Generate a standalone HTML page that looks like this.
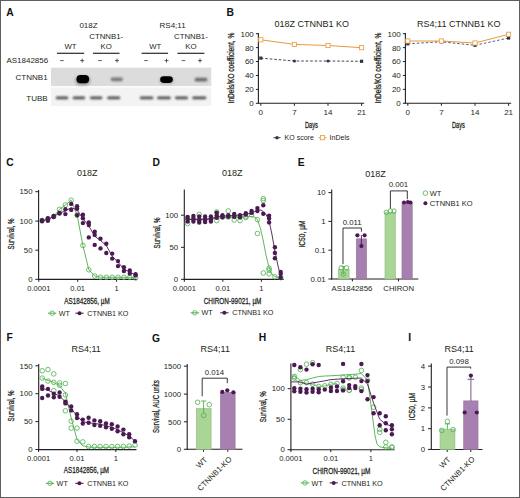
<!DOCTYPE html>
<html><head><meta charset="utf-8"><style>
html,body{margin:0;padding:0;background:#fff;}
#fig{position:relative;width:520px;height:498px;overflow:hidden;background:#fff;box-sizing:border-box;}
#fig svg{position:absolute;left:0;top:0;}
text{font-family:"Liberation Sans", sans-serif;}
</style></head><body><div id="fig">
<svg width="520" height="498" viewBox="0 0 520 498" font-family='"Liberation Sans", sans-serif'>
<defs>
<filter id="b1" x="-50%" y="-100%" width="200%" height="300%"><feGaussianBlur stdDeviation="0.75"/></filter>
<filter id="b2" x="-50%" y="-150%" width="200%" height="400%"><feGaussianBlur stdDeviation="0.8"/></filter>
<filter id="b3" x="-50%" y="-150%" width="200%" height="400%"><feGaussianBlur stdDeviation="1.4"/></filter>
<filter id="soft" x="-5%" y="-20%" width="110%" height="140%"><feGaussianBlur stdDeviation="0.7"/></filter>
</defs>
<rect x="0" y="0" width="520" height="498" fill="#fff"/>
<text x="6.3" y="16.2" font-size="10.3" text-anchor="start" fill="#111" font-weight="bold" >A</text>
<text x="88.5" y="28.2" font-size="8" text-anchor="middle" fill="#231f20" >018Z</text>
<text x="172.6" y="28.2" font-size="8" text-anchor="middle" fill="#231f20" >RS4;11</text>
<text x="106.2" y="39.4" font-size="7.8" text-anchor="middle" fill="#231f20" >CTNNB1-</text>
<text x="106.2" y="48.8" font-size="7.8" text-anchor="middle" fill="#231f20" >KO</text>
<text x="70.5" y="48.8" font-size="7.8" text-anchor="middle" fill="#231f20" >WT</text>
<line x1="57" y1="53.3" x2="84.2" y2="53.3" stroke="#2a2a2a" stroke-width="1.2" />
<line x1="93" y1="53.3" x2="119.5" y2="53.3" stroke="#2a2a2a" stroke-width="1.2" />
<text x="190.9" y="39.4" font-size="7.8" text-anchor="middle" fill="#231f20" >CTNNB1-</text>
<text x="190.9" y="48.8" font-size="7.8" text-anchor="middle" fill="#231f20" >KO</text>
<text x="155.2" y="48.8" font-size="7.8" text-anchor="middle" fill="#231f20" >WT</text>
<line x1="141.6" y1="53.3" x2="168.1" y2="53.3" stroke="#2a2a2a" stroke-width="1.2" />
<line x1="177.4" y1="53.3" x2="204.4" y2="53.3" stroke="#2a2a2a" stroke-width="1.2" />
<text x="6.4" y="62.9" font-size="8" text-anchor="start" fill="#231f20" >AS1842856</text>
<line x1="60.1" y1="60.6" x2="63.699999999999996" y2="60.6" stroke="#333" stroke-width="0.8" />
<line x1="98.2" y1="60.6" x2="101.8" y2="60.6" stroke="#333" stroke-width="0.8" />
<line x1="144.2" y1="60.6" x2="147.8" y2="60.6" stroke="#333" stroke-width="0.8" />
<line x1="181.6" y1="60.6" x2="185.20000000000002" y2="60.6" stroke="#333" stroke-width="0.8" />
<line x1="80.2" y1="60.6" x2="84.2" y2="60.6" stroke="#333" stroke-width="0.8" />
<line x1="82.2" y1="58.6" x2="82.2" y2="62.6" stroke="#333" stroke-width="0.8" />
<line x1="115.0" y1="60.6" x2="119.0" y2="60.6" stroke="#333" stroke-width="0.8" />
<line x1="117.0" y1="58.6" x2="117.0" y2="62.6" stroke="#333" stroke-width="0.8" />
<line x1="164.5" y1="60.6" x2="168.5" y2="60.6" stroke="#333" stroke-width="0.8" />
<line x1="166.5" y1="58.6" x2="166.5" y2="62.6" stroke="#333" stroke-width="0.8" />
<line x1="198.0" y1="60.6" x2="202.0" y2="60.6" stroke="#333" stroke-width="0.8" />
<line x1="200.0" y1="58.6" x2="200.0" y2="62.6" stroke="#333" stroke-width="0.8" />
<text x="47.6" y="80.3" font-size="8" text-anchor="end" fill="#231f20" >CTNNB1</text>
<text x="47.6" y="101.0" font-size="8" text-anchor="end" fill="#231f20" >TUBB</text>
<rect x="51" y="67.6" width="160.3" height="18.5" fill="#dcdcdc"/>
<rect x="51" y="87.4" width="160.3" height="18.6" fill="#f3f3f3" filter="url(#soft)"/>
<rect x="75.5" y="76.0" width="14.5" height="9.0" rx="4.5" fill="#8a8a8a" filter="url(#b3)"/>
<rect x="159.5" y="77.2" width="14.0" height="6.5" rx="3.2" fill="#a5a5a5" filter="url(#b3)"/>
<rect x="76.5" y="75.1" width="12.6" height="8.2" rx="4.1" fill="#000" filter="url(#b1)"/>
<rect x="110.7" y="77.4" width="12.2" height="3.8" rx="1.9" fill="#787878" filter="url(#b2)"/>
<rect x="160.2" y="76.3" width="12.6" height="6.6" rx="3.3" fill="#000" filter="url(#b1)"/>
<rect x="194.6" y="77.8" width="12.8" height="3.8" rx="1.9" fill="#6a6a6a" filter="url(#b2)"/>
<rect x="55.8" y="96.5" width="12.5" height="2.8" rx="1.4" fill="#4e4e4e" filter="url(#b2)"/>
<rect x="72.7" y="96.5" width="12.4" height="2.8" rx="1.4" fill="#4e4e4e" filter="url(#b2)"/>
<rect x="90.0" y="96.5" width="12.4" height="2.8" rx="1.4" fill="#4e4e4e" filter="url(#b2)"/>
<rect x="107.2" y="96.5" width="13.0" height="2.8" rx="1.4" fill="#4e4e4e" filter="url(#b2)"/>
<rect x="139.8" y="96.5" width="13.6" height="2.8" rx="1.4" fill="#4e4e4e" filter="url(#b2)"/>
<rect x="157.1" y="96.5" width="13.7" height="2.8" rx="1.4" fill="#4e4e4e" filter="url(#b2)"/>
<rect x="175.0" y="96.5" width="13.1" height="2.8" rx="1.4" fill="#4e4e4e" filter="url(#b2)"/>
<rect x="192.2" y="96.5" width="14.1" height="2.8" rx="1.4" fill="#4e4e4e" filter="url(#b2)"/>
<text x="226.6" y="15.9" font-size="10.3" text-anchor="start" fill="#111" font-weight="bold" >B</text>
<line x1="258.4" y1="33.0" x2="258.4" y2="103.8" stroke="#231f20" stroke-width="1.1" />
<line x1="255.89999999999998" y1="33.7" x2="258.4" y2="33.7" stroke="#231f20" stroke-width="1" />
<text x="253.79999999999998" y="36.6" font-size="8" text-anchor="end" fill="#231f20" >100</text>
<line x1="255.89999999999998" y1="47.620000000000005" x2="258.4" y2="47.620000000000005" stroke="#231f20" stroke-width="1" />
<text x="253.79999999999998" y="50.52" font-size="8" text-anchor="end" fill="#231f20" >80</text>
<line x1="255.89999999999998" y1="61.540000000000006" x2="258.4" y2="61.540000000000006" stroke="#231f20" stroke-width="1" />
<text x="253.79999999999998" y="64.44000000000001" font-size="8" text-anchor="end" fill="#231f20" >60</text>
<line x1="255.89999999999998" y1="75.46000000000001" x2="258.4" y2="75.46000000000001" stroke="#231f20" stroke-width="1" />
<text x="253.79999999999998" y="78.36000000000001" font-size="8" text-anchor="end" fill="#231f20" >40</text>
<line x1="255.89999999999998" y1="89.38" x2="258.4" y2="89.38" stroke="#231f20" stroke-width="1" />
<text x="253.79999999999998" y="92.28" font-size="8" text-anchor="end" fill="#231f20" >20</text>
<line x1="255.89999999999998" y1="103.3" x2="258.4" y2="103.3" stroke="#231f20" stroke-width="1" />
<text x="253.79999999999998" y="106.2" font-size="8" text-anchor="end" fill="#231f20" >0</text>
<line x1="258.4" y1="103.3" x2="364.2" y2="103.3" stroke="#231f20" stroke-width="1.1" />
<line x1="260.8" y1="103.3" x2="260.8" y2="105.8" stroke="#231f20" stroke-width="1" />
<text x="260.8" y="115.4" font-size="8" text-anchor="middle" fill="#231f20" >0</text>
<line x1="294.40000000000003" y1="103.3" x2="294.40000000000003" y2="105.8" stroke="#231f20" stroke-width="1" />
<text x="294.40000000000003" y="115.4" font-size="8" text-anchor="middle" fill="#231f20" >7</text>
<line x1="328.0" y1="103.3" x2="328.0" y2="105.8" stroke="#231f20" stroke-width="1" />
<text x="328.0" y="115.4" font-size="8" text-anchor="middle" fill="#231f20" >14</text>
<line x1="361.6" y1="103.3" x2="361.6" y2="105.8" stroke="#231f20" stroke-width="1" />
<text x="361.6" y="115.4" font-size="8" text-anchor="middle" fill="#231f20" >21</text>
<text x="311.4" y="128.4" font-size="8.6" text-anchor="middle" fill="#231f20" stroke="#231f20" stroke-width="0.28" textLength="13" lengthAdjust="spacingAndGlyphs" >Days</text>
<text transform="translate(234.2,68.1) rotate(-90)" font-size="8.4" text-anchor="middle" fill="#231f20" stroke="#231f20" stroke-width="0.28" textLength="70.7" lengthAdjust="spacingAndGlyphs" >InDels/KO coefficient, %</text>
<text x="311.79999999999995" y="26.6" font-size="9" text-anchor="middle" fill="#231f20" >018Z CTNNB1 KO</text>
<polyline points="260.8,39.8 294.4,44.4 328.0,45.5 361.6,47.7" fill="none" stroke="#e8993a" stroke-width="1" stroke-linejoin="round" />
<polyline points="260.8,58.1 294.4,61.0 328.0,61.0 361.6,61.3" fill="none" stroke="#3d4456" stroke-width="1" stroke-linejoin="round" stroke-dasharray="2.6,1.9"/>
<rect x="259.2" y="56.5" width="3.2" height="3.2" fill="#2f3646"/>
<circle cx="294.4" cy="61.0" r="1.6" fill="#2f3646"/>
<circle cx="328.0" cy="61.0" r="1.6" fill="#2f3646"/>
<rect x="360.0" y="59.7" width="3.2" height="3.2" fill="#2f3646"/>
<rect x="258.7" y="37.7" width="4.2" height="4.2" fill="#fff" stroke="#e8993a" stroke-width="0.8"/>
<rect x="292.3" y="42.3" width="4.2" height="4.2" fill="#fff" stroke="#e8993a" stroke-width="0.8"/>
<rect x="325.9" y="43.4" width="4.2" height="4.2" fill="#fff" stroke="#e8993a" stroke-width="0.8"/>
<rect x="359.5" y="45.6" width="4.2" height="4.2" fill="#fff" stroke="#e8993a" stroke-width="0.8"/>
<line x1="405.4" y1="33.0" x2="405.4" y2="103.8" stroke="#231f20" stroke-width="1.1" />
<line x1="402.9" y1="33.7" x2="405.4" y2="33.7" stroke="#231f20" stroke-width="1" />
<text x="400.79999999999995" y="36.6" font-size="8" text-anchor="end" fill="#231f20" >100</text>
<line x1="402.9" y1="47.620000000000005" x2="405.4" y2="47.620000000000005" stroke="#231f20" stroke-width="1" />
<text x="400.79999999999995" y="50.52" font-size="8" text-anchor="end" fill="#231f20" >80</text>
<line x1="402.9" y1="61.540000000000006" x2="405.4" y2="61.540000000000006" stroke="#231f20" stroke-width="1" />
<text x="400.79999999999995" y="64.44000000000001" font-size="8" text-anchor="end" fill="#231f20" >60</text>
<line x1="402.9" y1="75.46000000000001" x2="405.4" y2="75.46000000000001" stroke="#231f20" stroke-width="1" />
<text x="400.79999999999995" y="78.36000000000001" font-size="8" text-anchor="end" fill="#231f20" >40</text>
<line x1="402.9" y1="89.38" x2="405.4" y2="89.38" stroke="#231f20" stroke-width="1" />
<text x="400.79999999999995" y="92.28" font-size="8" text-anchor="end" fill="#231f20" >20</text>
<line x1="402.9" y1="103.3" x2="405.4" y2="103.3" stroke="#231f20" stroke-width="1" />
<text x="400.79999999999995" y="106.2" font-size="8" text-anchor="end" fill="#231f20" >0</text>
<line x1="405.4" y1="103.3" x2="511.2" y2="103.3" stroke="#231f20" stroke-width="1.1" />
<line x1="407.8" y1="103.3" x2="407.8" y2="105.8" stroke="#231f20" stroke-width="1" />
<text x="407.8" y="115.4" font-size="8" text-anchor="middle" fill="#231f20" >0</text>
<line x1="441.40000000000003" y1="103.3" x2="441.40000000000003" y2="105.8" stroke="#231f20" stroke-width="1" />
<text x="441.40000000000003" y="115.4" font-size="8" text-anchor="middle" fill="#231f20" >7</text>
<line x1="475.0" y1="103.3" x2="475.0" y2="105.8" stroke="#231f20" stroke-width="1" />
<text x="475.0" y="115.4" font-size="8" text-anchor="middle" fill="#231f20" >14</text>
<line x1="508.6" y1="103.3" x2="508.6" y2="105.8" stroke="#231f20" stroke-width="1" />
<text x="508.6" y="115.4" font-size="8" text-anchor="middle" fill="#231f20" >21</text>
<text x="458.4" y="128.4" font-size="8.6" text-anchor="middle" fill="#231f20" stroke="#231f20" stroke-width="0.28" textLength="13" lengthAdjust="spacingAndGlyphs" >Days</text>
<text transform="translate(381.2,68.1) rotate(-90)" font-size="8.4" text-anchor="middle" fill="#231f20" stroke="#231f20" stroke-width="0.28" textLength="70.7" lengthAdjust="spacingAndGlyphs" >InDels/KO coefficient, %</text>
<text x="458.79999999999995" y="26.6" font-size="9" text-anchor="middle" fill="#231f20" >RS4;11 CTNNB1 KO</text>
<polyline points="407.8,41.0 441.4,41.0 475.0,43.0 508.6,34.3" fill="none" stroke="#e8993a" stroke-width="1" stroke-linejoin="round" />
<polyline points="407.8,43.8 441.4,41.8 475.0,45.3 508.6,38.0" fill="none" stroke="#56618a" stroke-width="1" stroke-linejoin="round" stroke-dasharray="2.6,1.9"/>
<rect x="406.2" y="42.2" width="3.2" height="3.2" fill="#2f3646"/>
<rect x="439.8" y="40.2" width="3.2" height="3.2" fill="#2f3646"/>
<rect x="473.4" y="43.7" width="3.2" height="3.2" fill="#2f3646"/>
<rect x="507.0" y="36.4" width="3.2" height="3.2" fill="#2f3646"/>
<rect x="405.7" y="38.9" width="4.2" height="4.2" fill="#fff" stroke="#e8993a" stroke-width="0.8"/>
<rect x="439.3" y="38.9" width="4.2" height="4.2" fill="#fff" stroke="#e8993a" stroke-width="0.8"/>
<rect x="472.9" y="40.9" width="4.2" height="4.2" fill="#fff" stroke="#e8993a" stroke-width="0.8"/>
<rect x="506.5" y="32.2" width="4.2" height="4.2" fill="#fff" stroke="#e8993a" stroke-width="0.8"/>
<line x1="273.5" y1="137.7" x2="280.5" y2="137.7" stroke="#2f3646" stroke-width="1" />
<circle cx="277.0" cy="137.7" r="1.7" fill="#2f3646"/>
<text x="284.6" y="140.3" font-size="7" text-anchor="start" fill="#231f20" >KO score</text>
<line x1="318.5" y1="137.7" x2="326.5" y2="137.7" stroke="#e8993a" stroke-width="1" />
<rect x="320.4" y="135.6" width="4.2" height="4.2" fill="#fff" stroke="#e8993a" stroke-width="0.8"/>
<text x="329.6" y="140.3" font-size="7" text-anchor="start" fill="#231f20" >InDels</text>
<text x="6.2" y="165.6" font-size="10.3" text-anchor="start" fill="#111" font-weight="bold" >C</text>
<text x="87.2" y="176.2" font-size="9" text-anchor="middle" fill="#231f20" >018Z</text>
<line x1="38.6" y1="190.0" x2="38.6" y2="279.9" stroke="#231f20" stroke-width="1.1" />
<line x1="35.300000000000004" y1="191.7" x2="38.6" y2="191.7" stroke="#231f20" stroke-width="1" />
<text x="32.5" y="194.39999999999998" font-size="7.8" text-anchor="end" fill="#231f20" >150</text>
<line x1="35.300000000000004" y1="221.1" x2="38.6" y2="221.1" stroke="#231f20" stroke-width="1" />
<text x="32.5" y="223.79999999999998" font-size="7.8" text-anchor="end" fill="#231f20" >100</text>
<line x1="35.300000000000004" y1="250.2" x2="38.6" y2="250.2" stroke="#231f20" stroke-width="1" />
<text x="32.5" y="252.89999999999998" font-size="7.8" text-anchor="end" fill="#231f20" >50</text>
<line x1="35.300000000000004" y1="279.3" x2="38.6" y2="279.3" stroke="#231f20" stroke-width="1" />
<text x="32.5" y="282.0" font-size="7.8" text-anchor="end" fill="#231f20" >0</text>
<line x1="38.1" y1="279.4" x2="136.8" y2="279.4" stroke="#231f20" stroke-width="1.1" />
<line x1="38.8" y1="279.4" x2="38.8" y2="281.79999999999995" stroke="#231f20" stroke-width="1" />
<text x="38.8" y="291.0" font-size="7.6" text-anchor="middle" fill="#231f20" >0.0001</text>
<line x1="77.7" y1="279.4" x2="77.7" y2="281.79999999999995" stroke="#231f20" stroke-width="1" />
<text x="77.7" y="291.0" font-size="7.6" text-anchor="middle" fill="#231f20" >0.01</text>
<line x1="116.6" y1="279.4" x2="116.6" y2="281.79999999999995" stroke="#231f20" stroke-width="1" />
<text x="116.6" y="291.0" font-size="7.6" text-anchor="middle" fill="#231f20" >1</text>
<text x="64.2" y="304.0" font-size="9.4" text-anchor="start" fill="#231f20" stroke="#231f20" stroke-width="0.28" textLength="45.5" lengthAdjust="spacingAndGlyphs" >AS1842856, µM</text>
<text transform="translate(14.2,234.0) rotate(-90)" font-size="9.2" text-anchor="middle" fill="#231f20" stroke="#231f20" stroke-width="0.28" textLength="31" lengthAdjust="spacingAndGlyphs" >Survival, %</text>
<line x1="48.0" y1="313.2" x2="56.400000000000006" y2="313.2" stroke="#4cae4c" stroke-width="1" />
<circle cx="52.2" cy="313.2" r="2.2" fill="none" stroke="#4cae4c" stroke-width="0.8"/>
<text x="58.800000000000004" y="315.8" font-size="7.2" text-anchor="start" fill="#231f20" >WT</text>
<line x1="75.3" y1="313.2" x2="83.7" y2="313.2" stroke="#4b1a52" stroke-width="1" />
<circle cx="79.5" cy="313.2" r="2.0" fill="#4b1a52"/>
<text x="87.3" y="315.8" font-size="7.2" text-anchor="start" fill="#231f20" >CTNNB1 KO</text>
<polyline points="42.0,220.5 47.9,219.0 53.7,216.5 59.5,209.3 65.4,205.0 71.2,200.2 77.1,215.0 82.9,245.5 88.8,269.8 94.7,276.0 100.5,277.2 106.3,277.3 112.2,277.3 118.0,277.3 123.9,277.3 129.8,277.3 135.6,278.0" fill="none" stroke="#4cae4c" stroke-width="0.9" stroke-linejoin="round" />
<circle cx="42.0" cy="220.5" r="2.3" fill="none" stroke="#4cae4c" stroke-width="0.8"/>
<circle cx="47.9" cy="219.0" r="2.3" fill="none" stroke="#4cae4c" stroke-width="0.8"/>
<circle cx="53.7" cy="216.5" r="2.3" fill="none" stroke="#4cae4c" stroke-width="0.8"/>
<circle cx="59.5" cy="209.3" r="2.3" fill="none" stroke="#4cae4c" stroke-width="0.8"/>
<circle cx="65.4" cy="205.0" r="2.3" fill="none" stroke="#4cae4c" stroke-width="0.8"/>
<circle cx="71.2" cy="200.2" r="2.3" fill="none" stroke="#4cae4c" stroke-width="0.8"/>
<circle cx="77.1" cy="215.0" r="2.3" fill="none" stroke="#4cae4c" stroke-width="0.8"/>
<circle cx="82.9" cy="245.5" r="2.3" fill="none" stroke="#4cae4c" stroke-width="0.8"/>
<circle cx="88.8" cy="269.8" r="2.3" fill="none" stroke="#4cae4c" stroke-width="0.8"/>
<circle cx="94.7" cy="276.0" r="2.3" fill="none" stroke="#4cae4c" stroke-width="0.8"/>
<circle cx="100.5" cy="277.2" r="2.3" fill="none" stroke="#4cae4c" stroke-width="0.8"/>
<circle cx="106.3" cy="277.3" r="2.3" fill="none" stroke="#4cae4c" stroke-width="0.8"/>
<circle cx="112.2" cy="277.3" r="2.3" fill="none" stroke="#4cae4c" stroke-width="0.8"/>
<circle cx="118.0" cy="277.3" r="2.3" fill="none" stroke="#4cae4c" stroke-width="0.8"/>
<circle cx="123.9" cy="277.3" r="2.3" fill="none" stroke="#4cae4c" stroke-width="0.8"/>
<circle cx="129.8" cy="277.3" r="2.3" fill="none" stroke="#4cae4c" stroke-width="0.8"/>
<circle cx="135.6" cy="278.0" r="2.3" fill="none" stroke="#4cae4c" stroke-width="0.8"/>
<polyline points="42.0,220.7 47.9,219.5 53.7,216.5 59.5,213.0 65.4,211.0 71.2,207.5 77.1,210.0 82.9,218.7 88.8,226.0 94.7,236.2 100.5,240.5 106.3,245.5 112.2,256.1 118.0,262.3 123.9,269.0 129.8,272.3 135.6,274.8" fill="none" stroke="#4b1a52" stroke-width="0.9" stroke-linejoin="round" />
<circle cx="42.0" cy="220.1" r="2.2" fill="#4b1a52"/>
<circle cx="42.0" cy="221.3" r="2.2" fill="#4b1a52"/>
<circle cx="47.9" cy="218.3" r="2.2" fill="#4b1a52"/>
<circle cx="47.9" cy="220.7" r="2.2" fill="#4b1a52"/>
<circle cx="53.7" cy="215.9" r="2.2" fill="#4b1a52"/>
<circle cx="53.7" cy="217.0" r="2.2" fill="#4b1a52"/>
<circle cx="59.5" cy="212.9" r="2.2" fill="#4b1a52"/>
<circle cx="59.5" cy="213.5" r="2.2" fill="#4b1a52"/>
<circle cx="65.4" cy="209.3" r="2.2" fill="#4b1a52"/>
<circle cx="65.4" cy="214.1" r="2.2" fill="#4b1a52"/>
<circle cx="71.2" cy="203.9" r="2.2" fill="#4b1a52"/>
<circle cx="71.2" cy="209.9" r="2.2" fill="#4b1a52"/>
<circle cx="77.1" cy="206.3" r="2.2" fill="#4b1a52"/>
<circle cx="77.1" cy="208.7" r="2.2" fill="#4b1a52"/>
<circle cx="77.1" cy="215.3" r="2.2" fill="#4b1a52"/>
<circle cx="82.9" cy="214.7" r="2.2" fill="#4b1a52"/>
<circle cx="82.9" cy="218.3" r="2.2" fill="#4b1a52"/>
<circle cx="82.9" cy="223.1" r="2.2" fill="#4b1a52"/>
<circle cx="88.8" cy="222.5" r="2.2" fill="#4b1a52"/>
<circle cx="88.8" cy="225.0" r="2.2" fill="#4b1a52"/>
<circle cx="88.8" cy="237.4" r="2.2" fill="#4b1a52"/>
<circle cx="94.7" cy="231.8" r="2.2" fill="#4b1a52"/>
<circle cx="94.7" cy="234.9" r="2.2" fill="#4b1a52"/>
<circle cx="94.7" cy="244.9" r="2.2" fill="#4b1a52"/>
<circle cx="100.5" cy="238.7" r="2.2" fill="#4b1a52"/>
<circle cx="100.5" cy="248.4" r="2.2" fill="#4b1a52"/>
<circle cx="106.3" cy="243.7" r="2.2" fill="#4b1a52"/>
<circle cx="106.3" cy="253.0" r="2.2" fill="#4b1a52"/>
<circle cx="112.2" cy="253.6" r="2.2" fill="#4b1a52"/>
<circle cx="112.2" cy="258.6" r="2.2" fill="#4b1a52"/>
<circle cx="118.0" cy="261.1" r="2.2" fill="#4b1a52"/>
<circle cx="118.0" cy="266.1" r="2.2" fill="#4b1a52"/>
<circle cx="123.9" cy="267.3" r="2.2" fill="#4b1a52"/>
<circle cx="123.9" cy="271.0" r="2.2" fill="#4b1a52"/>
<circle cx="129.8" cy="270.4" r="2.2" fill="#4b1a52"/>
<circle cx="129.8" cy="273.5" r="2.2" fill="#4b1a52"/>
<circle cx="135.6" cy="274.2" r="2.2" fill="#4b1a52"/>
<circle cx="135.6" cy="275.4" r="2.2" fill="#4b1a52"/>
<text x="152.5" y="165.7" font-size="10.3" text-anchor="start" fill="#111" font-weight="bold" >D</text>
<text x="232.3" y="176.4" font-size="9" text-anchor="middle" fill="#231f20" >018Z</text>
<line x1="184.3" y1="189.4" x2="184.3" y2="279.9" stroke="#231f20" stroke-width="1.1" />
<line x1="181.0" y1="215.2" x2="184.3" y2="215.2" stroke="#231f20" stroke-width="1" />
<text x="178.20000000000002" y="217.89999999999998" font-size="7.8" text-anchor="end" fill="#231f20" >100</text>
<line x1="181.0" y1="247.3" x2="184.3" y2="247.3" stroke="#231f20" stroke-width="1" />
<text x="178.20000000000002" y="250.0" font-size="7.8" text-anchor="end" fill="#231f20" >50</text>
<line x1="181.0" y1="279.3" x2="184.3" y2="279.3" stroke="#231f20" stroke-width="1" />
<text x="178.20000000000002" y="282.0" font-size="7.8" text-anchor="end" fill="#231f20" >0</text>
<line x1="183.8" y1="279.4" x2="283.7" y2="279.4" stroke="#231f20" stroke-width="1.1" />
<line x1="184.3" y1="279.4" x2="184.3" y2="281.79999999999995" stroke="#231f20" stroke-width="1" />
<text x="184.3" y="291.0" font-size="7.6" text-anchor="middle" fill="#231f20" >0.0001</text>
<line x1="222.8" y1="279.4" x2="222.8" y2="281.79999999999995" stroke="#231f20" stroke-width="1" />
<text x="222.8" y="291.0" font-size="7.6" text-anchor="middle" fill="#231f20" >0.01</text>
<line x1="261.4" y1="279.4" x2="261.4" y2="281.79999999999995" stroke="#231f20" stroke-width="1" />
<text x="261.4" y="291.0" font-size="7.6" text-anchor="middle" fill="#231f20" >1</text>
<text x="203.7" y="304.0" font-size="9.4" text-anchor="start" fill="#231f20" stroke="#231f20" stroke-width="0.28" textLength="57.7" lengthAdjust="spacingAndGlyphs" >CHIRON-99021, µM</text>
<text transform="translate(160.2,233.0) rotate(-90)" font-size="9.2" text-anchor="middle" fill="#231f20" stroke="#231f20" stroke-width="0.28" textLength="31" lengthAdjust="spacingAndGlyphs" >Survival, %</text>
<line x1="190.60000000000002" y1="312.8" x2="199.0" y2="312.8" stroke="#4cae4c" stroke-width="1" />
<circle cx="194.8" cy="312.8" r="2.2" fill="none" stroke="#4cae4c" stroke-width="0.8"/>
<text x="201.4" y="315.40000000000003" font-size="7.2" text-anchor="start" fill="#231f20" >WT</text>
<line x1="220.20000000000002" y1="312.8" x2="228.6" y2="312.8" stroke="#4b1a52" stroke-width="1" />
<circle cx="224.4" cy="312.8" r="2.0" fill="#4b1a52"/>
<text x="232.20000000000002" y="315.40000000000003" font-size="7.2" text-anchor="start" fill="#231f20" >CTNNB1 KO</text>
<polyline points="187.6,219.5 199.2,219.2 210.9,218.8 222.5,217.8 234.2,217.2 245.8,216.8 251.7,216.5 255.0,217.4 257.4,219.5 260.3,228.0 263.1,240.0 266.0,255.0 268.8,266.5 271.7,273.8 274.9,276.5 280.7,277.8" fill="none" stroke="#4cae4c" stroke-width="0.9" stroke-linejoin="round" />
<circle cx="187.6" cy="223.5" r="2.3" fill="none" stroke="#4cae4c" stroke-width="0.8"/>
<circle cx="187.6" cy="218.0" r="2.3" fill="none" stroke="#4cae4c" stroke-width="0.8"/>
<circle cx="193.4" cy="219.0" r="2.3" fill="none" stroke="#4cae4c" stroke-width="0.8"/>
<circle cx="199.2" cy="214.4" r="2.3" fill="none" stroke="#4cae4c" stroke-width="0.8"/>
<circle cx="199.2" cy="220.0" r="2.3" fill="none" stroke="#4cae4c" stroke-width="0.8"/>
<circle cx="205.1" cy="219.5" r="2.3" fill="none" stroke="#4cae4c" stroke-width="0.8"/>
<circle cx="210.9" cy="219.0" r="2.3" fill="none" stroke="#4cae4c" stroke-width="0.8"/>
<circle cx="216.7" cy="211.9" r="2.3" fill="none" stroke="#4cae4c" stroke-width="0.8"/>
<circle cx="216.7" cy="220.6" r="2.3" fill="none" stroke="#4cae4c" stroke-width="0.8"/>
<circle cx="222.5" cy="217.0" r="2.3" fill="none" stroke="#4cae4c" stroke-width="0.8"/>
<circle cx="228.3" cy="211.0" r="2.3" fill="none" stroke="#4cae4c" stroke-width="0.8"/>
<circle cx="228.3" cy="217.0" r="2.3" fill="none" stroke="#4cae4c" stroke-width="0.8"/>
<circle cx="234.2" cy="220.0" r="2.3" fill="none" stroke="#4cae4c" stroke-width="0.8"/>
<circle cx="234.2" cy="216.5" r="2.3" fill="none" stroke="#4cae4c" stroke-width="0.8"/>
<circle cx="240.0" cy="216.9" r="2.3" fill="none" stroke="#4cae4c" stroke-width="0.8"/>
<circle cx="240.0" cy="220.6" r="2.3" fill="none" stroke="#4cae4c" stroke-width="0.8"/>
<circle cx="245.8" cy="216.7" r="2.3" fill="none" stroke="#4cae4c" stroke-width="0.8"/>
<circle cx="245.8" cy="217.5" r="2.3" fill="none" stroke="#4cae4c" stroke-width="0.8"/>
<circle cx="251.6" cy="214.8" r="2.3" fill="none" stroke="#4cae4c" stroke-width="0.8"/>
<circle cx="257.4" cy="219.6" r="2.3" fill="none" stroke="#4cae4c" stroke-width="0.8"/>
<circle cx="257.4" cy="233.5" r="2.3" fill="none" stroke="#4cae4c" stroke-width="0.8"/>
<circle cx="263.3" cy="198.6" r="2.3" fill="none" stroke="#4cae4c" stroke-width="0.8"/>
<circle cx="263.3" cy="200.5" r="2.3" fill="none" stroke="#4cae4c" stroke-width="0.8"/>
<circle cx="263.3" cy="273.0" r="2.3" fill="none" stroke="#4cae4c" stroke-width="0.8"/>
<circle cx="269.1" cy="268.2" r="2.3" fill="none" stroke="#4cae4c" stroke-width="0.8"/>
<circle cx="269.1" cy="270.1" r="2.3" fill="none" stroke="#4cae4c" stroke-width="0.8"/>
<circle cx="269.1" cy="273.9" r="2.3" fill="none" stroke="#4cae4c" stroke-width="0.8"/>
<circle cx="274.9" cy="276.8" r="2.3" fill="none" stroke="#4cae4c" stroke-width="0.8"/>
<circle cx="280.7" cy="277.7" r="2.3" fill="none" stroke="#4cae4c" stroke-width="0.8"/>
<polyline points="187.6,219.5 199.2,219.3 210.9,219.0 216.7,216.5 234.2,215.5 245.8,214.3 251.7,212.8 257.4,210.5 261.0,210.0 263.1,211.5 266.0,214.5 268.8,220.0 271.7,233.0 274.9,251.0 277.8,265.0 280.7,276.5" fill="none" stroke="#4b1a52" stroke-width="0.9" stroke-linejoin="round" />
<circle cx="187.6" cy="217.0" r="2.2" fill="#4b1a52"/>
<circle cx="187.6" cy="219.5" r="2.2" fill="#4b1a52"/>
<circle cx="187.6" cy="221.5" r="2.2" fill="#4b1a52"/>
<circle cx="193.4" cy="216.0" r="2.2" fill="#4b1a52"/>
<circle cx="193.4" cy="219.0" r="2.2" fill="#4b1a52"/>
<circle cx="193.4" cy="221.5" r="2.2" fill="#4b1a52"/>
<circle cx="199.2" cy="216.5" r="2.2" fill="#4b1a52"/>
<circle cx="199.2" cy="220.0" r="2.2" fill="#4b1a52"/>
<circle cx="199.2" cy="222.5" r="2.2" fill="#4b1a52"/>
<circle cx="205.1" cy="216.5" r="2.2" fill="#4b1a52"/>
<circle cx="205.1" cy="219.5" r="2.2" fill="#4b1a52"/>
<circle cx="205.1" cy="222.0" r="2.2" fill="#4b1a52"/>
<circle cx="210.9" cy="216.5" r="2.2" fill="#4b1a52"/>
<circle cx="210.9" cy="219.0" r="2.2" fill="#4b1a52"/>
<circle cx="210.9" cy="221.5" r="2.2" fill="#4b1a52"/>
<circle cx="216.7" cy="212.8" r="2.2" fill="#4b1a52"/>
<circle cx="216.7" cy="215.5" r="2.2" fill="#4b1a52"/>
<circle cx="216.7" cy="217.8" r="2.2" fill="#4b1a52"/>
<circle cx="222.5" cy="215.3" r="2.2" fill="#4b1a52"/>
<circle cx="222.5" cy="217.2" r="2.2" fill="#4b1a52"/>
<circle cx="228.3" cy="215.2" r="2.2" fill="#4b1a52"/>
<circle cx="228.3" cy="216.7" r="2.2" fill="#4b1a52"/>
<circle cx="234.2" cy="214.0" r="2.2" fill="#4b1a52"/>
<circle cx="234.2" cy="216.7" r="2.2" fill="#4b1a52"/>
<circle cx="240.0" cy="215.2" r="2.2" fill="#4b1a52"/>
<circle cx="240.0" cy="217.2" r="2.2" fill="#4b1a52"/>
<circle cx="245.8" cy="213.3" r="2.2" fill="#4b1a52"/>
<circle cx="245.8" cy="214.5" r="2.2" fill="#4b1a52"/>
<circle cx="251.6" cy="211.0" r="2.2" fill="#4b1a52"/>
<circle cx="251.6" cy="212.9" r="2.2" fill="#4b1a52"/>
<circle cx="257.4" cy="208.1" r="2.2" fill="#4b1a52"/>
<circle cx="257.4" cy="211.0" r="2.2" fill="#4b1a52"/>
<circle cx="263.3" cy="205.3" r="2.2" fill="#4b1a52"/>
<circle cx="263.3" cy="213.8" r="2.2" fill="#4b1a52"/>
<circle cx="269.1" cy="215.7" r="2.2" fill="#4b1a52"/>
<circle cx="269.1" cy="218.6" r="2.2" fill="#4b1a52"/>
<circle cx="269.1" cy="222.4" r="2.2" fill="#4b1a52"/>
<circle cx="274.9" cy="247.2" r="2.2" fill="#4b1a52"/>
<circle cx="274.9" cy="252.9" r="2.2" fill="#4b1a52"/>
<circle cx="274.9" cy="258.3" r="2.2" fill="#4b1a52"/>
<circle cx="280.7" cy="272.0" r="2.2" fill="#4b1a52"/>
<circle cx="280.7" cy="273.9" r="2.2" fill="#4b1a52"/>
<circle cx="280.7" cy="277.7" r="2.2" fill="#4b1a52"/>
<text x="297.8" y="165.6" font-size="10.3" text-anchor="start" fill="#111" font-weight="bold" >E</text>
<text x="375.5" y="176.9" font-size="9" text-anchor="middle" fill="#231f20" >018Z</text>
<line x1="331.7" y1="189.4" x2="331.7" y2="279.6" stroke="#231f20" stroke-width="1.1" />
<line x1="328.4" y1="192.6" x2="331.7" y2="192.6" stroke="#231f20" stroke-width="1" />
<text x="325.59999999999997" y="195.29999999999998" font-size="7.8" text-anchor="end" fill="#231f20" >10</text>
<line x1="328.4" y1="221.4" x2="331.7" y2="221.4" stroke="#231f20" stroke-width="1" />
<text x="325.59999999999997" y="224.1" font-size="7.8" text-anchor="end" fill="#231f20" >1</text>
<line x1="328.4" y1="250.2" x2="331.7" y2="250.2" stroke="#231f20" stroke-width="1" />
<text x="325.59999999999997" y="252.89999999999998" font-size="7.8" text-anchor="end" fill="#231f20" >0.1</text>
<line x1="328.4" y1="279.0" x2="331.7" y2="279.0" stroke="#231f20" stroke-width="1" />
<text x="325.59999999999997" y="281.7" font-size="7.8" text-anchor="end" fill="#231f20" >0.01</text>
<line x1="331.2" y1="279.0" x2="418.3" y2="279.0" stroke="#231f20" stroke-width="1.1" />
<line x1="352.4" y1="279.0" x2="352.4" y2="281.4" stroke="#231f20" stroke-width="1" />
<line x1="398.5" y1="279.0" x2="398.5" y2="281.4" stroke="#231f20" stroke-width="1" />
<text x="352.0" y="291.4" font-size="7.8" text-anchor="middle" fill="#231f20" >AS1842856</text>
<text x="398.7" y="291.4" font-size="7.8" text-anchor="middle" fill="#231f20" >CHIRON</text>
<text transform="translate(305.0,234.0) rotate(-90)" font-size="9.2" text-anchor="middle" fill="#231f20" stroke="#231f20" stroke-width="0.28" textLength="27" lengthAdjust="spacingAndGlyphs" >IC50, µM</text>
<rect x="338.3" y="269.6" width="10.8" height="9.4" fill="#a9d595" stroke="#9cbb8e" stroke-width="0.7"/>
<rect x="356.3" y="238.9" width="10.2" height="40.1" fill="#a77fb0" stroke="#947d99" stroke-width="0.7"/>
<rect x="385.0" y="212.6" width="10.3" height="66.4" fill="#a9d595" stroke="#9cbb8e" stroke-width="0.7"/>
<rect x="402.0" y="202.6" width="10.2" height="76.4" fill="#a77fb0" stroke="#947d99" stroke-width="0.7"/>
<line x1="343.3" y1="266.5" x2="343.3" y2="274.5" stroke="#4cae4c" stroke-width="0.9" />
<line x1="341.5" y1="266.5" x2="345.1" y2="266.5" stroke="#4cae4c" stroke-width="0.9" />
<line x1="361.4" y1="235.0" x2="361.4" y2="246.5" stroke="#4b1a52" stroke-width="0.9" />
<circle cx="341.2" cy="267.8" r="2.2" fill="none" stroke="#4cae4c" stroke-width="0.8"/>
<circle cx="346.6" cy="267.8" r="2.2" fill="none" stroke="#4cae4c" stroke-width="0.8"/>
<circle cx="343.3" cy="274.1" r="2.2" fill="none" stroke="#4cae4c" stroke-width="0.8"/>
<circle cx="357.4" cy="235.3" r="2.1" fill="#4b1a52"/>
<circle cx="364.6" cy="235.3" r="2.1" fill="#4b1a52"/>
<circle cx="361.4" cy="246.1" r="2.1" fill="#4b1a52"/>
<circle cx="386.3" cy="212.4" r="2.2" fill="none" stroke="#4cae4c" stroke-width="0.8"/>
<circle cx="390.4" cy="211.0" r="2.2" fill="none" stroke="#4cae4c" stroke-width="0.8"/>
<circle cx="394.0" cy="211.0" r="2.2" fill="none" stroke="#4cae4c" stroke-width="0.8"/>
<circle cx="404.0" cy="202.6" r="2.0" fill="#4b1a52"/>
<circle cx="407.9" cy="201.9" r="2.0" fill="#4b1a52"/>
<circle cx="410.5" cy="202.6" r="2.0" fill="#4b1a52"/>
<polyline points="343.0,264.2 343.0,228.0 361.4,228.0 361.4,231.7" fill="none" stroke="#231f20" stroke-width="0.9" stroke-linejoin="round" />
<text x="352.2" y="225.4" font-size="7.8" text-anchor="middle" fill="#231f20" >0.011</text>
<polyline points="390.4,208.6 390.4,190.9 407.3,190.9 407.3,199.2" fill="none" stroke="#231f20" stroke-width="0.9" stroke-linejoin="round" />
<text x="398.4" y="187.2" font-size="7.8" text-anchor="middle" fill="#231f20" >0.001</text>
<circle cx="425.4" cy="193.1" r="2.3" fill="none" stroke="#4cae4c" stroke-width="0.8"/>
<text x="429.7" y="195.7" font-size="7.5" text-anchor="start" fill="#231f20" >WT</text>
<circle cx="425.4" cy="203.2" r="2.0" fill="#4b1a52"/>
<text x="429.7" y="205.9" font-size="7.5" text-anchor="start" fill="#231f20" >CTNNB1 KO</text>
<text x="6.6" y="341.3" font-size="10.3" text-anchor="start" fill="#111" font-weight="bold" >F</text>
<text x="86.2" y="352.3" font-size="9" text-anchor="middle" fill="#231f20" >RS4;11</text>
<line x1="38.7" y1="364.0" x2="38.7" y2="450.1" stroke="#231f20" stroke-width="1.1" />
<line x1="35.400000000000006" y1="365.8" x2="38.7" y2="365.8" stroke="#231f20" stroke-width="1" />
<text x="32.6" y="368.5" font-size="7.8" text-anchor="end" fill="#231f20" >150</text>
<line x1="35.400000000000006" y1="393.7" x2="38.7" y2="393.7" stroke="#231f20" stroke-width="1" />
<text x="32.6" y="396.4" font-size="7.8" text-anchor="end" fill="#231f20" >100</text>
<line x1="35.400000000000006" y1="421.6" x2="38.7" y2="421.6" stroke="#231f20" stroke-width="1" />
<text x="32.6" y="424.3" font-size="7.8" text-anchor="end" fill="#231f20" >50</text>
<line x1="35.400000000000006" y1="449.5" x2="38.7" y2="449.5" stroke="#231f20" stroke-width="1" />
<text x="32.6" y="452.2" font-size="7.8" text-anchor="end" fill="#231f20" >0</text>
<line x1="38.2" y1="449.6" x2="136.5" y2="449.6" stroke="#231f20" stroke-width="1.1" />
<line x1="38.6" y1="449.6" x2="38.6" y2="452.0" stroke="#231f20" stroke-width="1" />
<text x="38.6" y="461.20000000000005" font-size="7.6" text-anchor="middle" fill="#231f20" >0.0001</text>
<line x1="77.0" y1="449.6" x2="77.0" y2="452.0" stroke="#231f20" stroke-width="1" />
<text x="77.0" y="461.20000000000005" font-size="7.6" text-anchor="middle" fill="#231f20" >0.01</text>
<line x1="115.8" y1="449.6" x2="115.8" y2="452.0" stroke="#231f20" stroke-width="1" />
<text x="115.8" y="461.20000000000005" font-size="7.6" text-anchor="middle" fill="#231f20" >1</text>
<text x="63.8" y="473.4" font-size="9.4" text-anchor="start" fill="#231f20" stroke="#231f20" stroke-width="0.28" textLength="45.2" lengthAdjust="spacingAndGlyphs" >AS1842856, µM</text>
<text transform="translate(13.9,406.0) rotate(-90)" font-size="9.2" text-anchor="middle" fill="#231f20" stroke="#231f20" stroke-width="0.28" textLength="31" lengthAdjust="spacingAndGlyphs" >Survival, %</text>
<line x1="45.8" y1="483.3" x2="54.2" y2="483.3" stroke="#4cae4c" stroke-width="1" />
<circle cx="50.0" cy="483.3" r="2.2" fill="none" stroke="#4cae4c" stroke-width="0.8"/>
<text x="56.6" y="485.90000000000003" font-size="7.2" text-anchor="start" fill="#231f20" >WT</text>
<line x1="75.2" y1="483.3" x2="83.60000000000001" y2="483.3" stroke="#4b1a52" stroke-width="1" />
<circle cx="79.4" cy="483.3" r="2.0" fill="#4b1a52"/>
<text x="87.2" y="485.90000000000003" font-size="7.2" text-anchor="start" fill="#231f20" >CTNNB1 KO</text>
<polyline points="42.2,378.0 48.0,380.5 53.8,382.3 59.6,386.0 65.4,393.0 71.2,418.0 77.0,439.6 82.8,445.8 88.6,447.0 94.4,447.3 100.2,447.3 106.0,447.3 111.8,447.3 117.6,447.3 123.4,447.3 129.2,447.0 135.0,446.8" fill="none" stroke="#4cae4c" stroke-width="0.9" stroke-linejoin="round" />
<circle cx="42.2" cy="370.8" r="2.3" fill="none" stroke="#4cae4c" stroke-width="0.8"/>
<circle cx="42.2" cy="378.1" r="2.3" fill="none" stroke="#4cae4c" stroke-width="0.8"/>
<circle cx="48.0" cy="369.6" r="2.3" fill="none" stroke="#4cae4c" stroke-width="0.8"/>
<circle cx="48.0" cy="381.1" r="2.3" fill="none" stroke="#4cae4c" stroke-width="0.8"/>
<circle cx="53.8" cy="373.9" r="2.3" fill="none" stroke="#4cae4c" stroke-width="0.8"/>
<circle cx="53.8" cy="382.3" r="2.3" fill="none" stroke="#4cae4c" stroke-width="0.8"/>
<circle cx="53.8" cy="390.7" r="2.3" fill="none" stroke="#4cae4c" stroke-width="0.8"/>
<circle cx="59.6" cy="382.9" r="2.3" fill="none" stroke="#4cae4c" stroke-width="0.8"/>
<circle cx="59.6" cy="385.3" r="2.3" fill="none" stroke="#4cae4c" stroke-width="0.8"/>
<circle cx="65.4" cy="383.5" r="2.3" fill="none" stroke="#4cae4c" stroke-width="0.8"/>
<circle cx="65.4" cy="394.9" r="2.3" fill="none" stroke="#4cae4c" stroke-width="0.8"/>
<circle cx="65.4" cy="410.8" r="2.3" fill="none" stroke="#4cae4c" stroke-width="0.8"/>
<circle cx="71.2" cy="421.2" r="2.3" fill="none" stroke="#4cae4c" stroke-width="0.8"/>
<circle cx="71.2" cy="428.1" r="2.3" fill="none" stroke="#4cae4c" stroke-width="0.8"/>
<circle cx="77.0" cy="428.1" r="2.3" fill="none" stroke="#4cae4c" stroke-width="0.8"/>
<circle cx="77.0" cy="441.2" r="2.3" fill="none" stroke="#4cae4c" stroke-width="0.8"/>
<circle cx="82.8" cy="441.9" r="2.3" fill="none" stroke="#4cae4c" stroke-width="0.8"/>
<circle cx="88.6" cy="446.5" r="2.3" fill="none" stroke="#4cae4c" stroke-width="0.8"/>
<circle cx="94.4" cy="446.5" r="2.3" fill="none" stroke="#4cae4c" stroke-width="0.8"/>
<circle cx="100.2" cy="446.5" r="2.3" fill="none" stroke="#4cae4c" stroke-width="0.8"/>
<circle cx="106.0" cy="446.5" r="2.3" fill="none" stroke="#4cae4c" stroke-width="0.8"/>
<circle cx="111.8" cy="446.5" r="2.3" fill="none" stroke="#4cae4c" stroke-width="0.8"/>
<circle cx="117.6" cy="446.5" r="2.3" fill="none" stroke="#4cae4c" stroke-width="0.8"/>
<circle cx="123.4" cy="446.5" r="2.3" fill="none" stroke="#4cae4c" stroke-width="0.8"/>
<circle cx="129.2" cy="446.0" r="2.3" fill="none" stroke="#4cae4c" stroke-width="0.8"/>
<circle cx="135.0" cy="445.0" r="2.3" fill="none" stroke="#4cae4c" stroke-width="0.8"/>
<polyline points="42.2,388.3 48.0,390.1 53.8,393.1 59.6,396.1 65.4,401.9 71.2,408.8 77.0,415.8 82.8,421.9 88.6,422.7 94.4,423.5 100.2,424.2 106.0,425.8 111.8,427.3 117.6,429.6 123.4,432.7 129.2,435.8 135.0,441.2" fill="none" stroke="#4b1a52" stroke-width="0.9" stroke-linejoin="round" />
<circle cx="42.2" cy="386.5" r="2.2" fill="#4b1a52"/>
<circle cx="42.2" cy="388.9" r="2.2" fill="#4b1a52"/>
<circle cx="42.2" cy="398.0" r="2.2" fill="#4b1a52"/>
<circle cx="48.0" cy="388.9" r="2.2" fill="#4b1a52"/>
<circle cx="48.0" cy="395.5" r="2.2" fill="#4b1a52"/>
<circle cx="53.8" cy="393.7" r="2.2" fill="#4b1a52"/>
<circle cx="53.8" cy="397.3" r="2.2" fill="#4b1a52"/>
<circle cx="59.6" cy="392.5" r="2.2" fill="#4b1a52"/>
<circle cx="59.6" cy="396.7" r="2.2" fill="#4b1a52"/>
<circle cx="65.4" cy="401.6" r="2.2" fill="#4b1a52"/>
<circle cx="65.4" cy="403.4" r="2.2" fill="#4b1a52"/>
<circle cx="71.2" cy="406.5" r="2.2" fill="#4b1a52"/>
<circle cx="71.2" cy="410.4" r="2.2" fill="#4b1a52"/>
<circle cx="77.0" cy="414.2" r="2.2" fill="#4b1a52"/>
<circle cx="77.0" cy="418.0" r="2.2" fill="#4b1a52"/>
<circle cx="82.8" cy="419.6" r="2.2" fill="#4b1a52"/>
<circle cx="82.8" cy="423.5" r="2.2" fill="#4b1a52"/>
<circle cx="88.6" cy="417.8" r="2.2" fill="#4b1a52"/>
<circle cx="88.6" cy="422.7" r="2.2" fill="#4b1a52"/>
<circle cx="94.4" cy="420.4" r="2.2" fill="#4b1a52"/>
<circle cx="94.4" cy="425.0" r="2.2" fill="#4b1a52"/>
<circle cx="100.2" cy="421.2" r="2.2" fill="#4b1a52"/>
<circle cx="100.2" cy="425.8" r="2.2" fill="#4b1a52"/>
<circle cx="106.0" cy="423.5" r="2.2" fill="#4b1a52"/>
<circle cx="106.0" cy="427.3" r="2.2" fill="#4b1a52"/>
<circle cx="111.8" cy="424.2" r="2.2" fill="#4b1a52"/>
<circle cx="111.8" cy="428.8" r="2.2" fill="#4b1a52"/>
<circle cx="117.6" cy="426.5" r="2.2" fill="#4b1a52"/>
<circle cx="117.6" cy="431.2" r="2.2" fill="#4b1a52"/>
<circle cx="123.4" cy="429.6" r="2.2" fill="#4b1a52"/>
<circle cx="123.4" cy="434.2" r="2.2" fill="#4b1a52"/>
<circle cx="129.2" cy="434.2" r="2.2" fill="#4b1a52"/>
<circle cx="129.2" cy="437.3" r="2.2" fill="#4b1a52"/>
<circle cx="135.0" cy="441.2" r="2.2" fill="#4b1a52"/>
<text x="152.0" y="342.1" font-size="10.3" text-anchor="start" fill="#111" font-weight="bold" >G</text>
<text x="215.3" y="352.3" font-size="9" text-anchor="middle" fill="#231f20" >RS4;11</text>
<line x1="187.2" y1="364.0" x2="187.2" y2="449.8" stroke="#231f20" stroke-width="1.1" />
<line x1="183.89999999999998" y1="366.2" x2="187.2" y2="366.2" stroke="#231f20" stroke-width="1" />
<text x="181.1" y="368.9" font-size="7.8" text-anchor="end" fill="#231f20" >1500</text>
<line x1="183.89999999999998" y1="394.1" x2="187.2" y2="394.1" stroke="#231f20" stroke-width="1" />
<text x="181.1" y="396.8" font-size="7.8" text-anchor="end" fill="#231f20" >1000</text>
<line x1="183.89999999999998" y1="421.8" x2="187.2" y2="421.8" stroke="#231f20" stroke-width="1" />
<text x="181.1" y="424.5" font-size="7.8" text-anchor="end" fill="#231f20" >500</text>
<line x1="183.89999999999998" y1="449.3" x2="187.2" y2="449.3" stroke="#231f20" stroke-width="1" />
<text x="181.1" y="452.0" font-size="7.8" text-anchor="end" fill="#231f20" >0</text>
<line x1="186.7" y1="449.3" x2="242.5" y2="449.3" stroke="#231f20" stroke-width="1.1" />
<line x1="203.5" y1="449.3" x2="203.5" y2="451.8" stroke="#231f20" stroke-width="1" />
<line x1="227.8" y1="449.3" x2="227.8" y2="451.8" stroke="#231f20" stroke-width="1" />
<text transform="translate(159.0,406.5) rotate(-90)" font-size="9.2" text-anchor="middle" fill="#231f20" stroke="#231f20" stroke-width="0.28" textLength="52.8" lengthAdjust="spacingAndGlyphs" >Survival, AUC units</text>
<rect x="196.3" y="408.5" width="14.8" height="40.8" fill="#a9d595" stroke="#9cbb8e" stroke-width="0.7"/>
<rect x="220.5" y="392.3" width="14.6" height="57.0" fill="#a77fb0" stroke="#947d99" stroke-width="0.7"/>
<line x1="203.6" y1="401.0" x2="203.6" y2="413.0" stroke="#4cae4c" stroke-width="0.9" />
<line x1="201.0" y1="401.0" x2="206.2" y2="401.0" stroke="#4cae4c" stroke-width="0.9" />
<circle cx="197.6" cy="402.3" r="2.3" fill="none" stroke="#4cae4c" stroke-width="0.8"/>
<circle cx="209.3" cy="404.7" r="2.3" fill="none" stroke="#4cae4c" stroke-width="0.8"/>
<circle cx="203.6" cy="415.4" r="2.3" fill="none" stroke="#4cae4c" stroke-width="0.8"/>
<circle cx="222.3" cy="391.9" r="2.1" fill="#4b1a52"/>
<circle cx="227.3" cy="390.3" r="2.1" fill="#4b1a52"/>
<circle cx="233.4" cy="392.3" r="2.1" fill="#4b1a52"/>
<polyline points="202.2,396.3 202.2,378.2 227.3,378.2 227.3,383.2" fill="none" stroke="#231f20" stroke-width="0.9" stroke-linejoin="round" />
<text x="214.4" y="375.3" font-size="7.8" text-anchor="middle" fill="#231f20" >0.014</text>
<text transform="translate(207.8,460.3) rotate(-45)" font-size="7.8" text-anchor="end" fill="#231f20" >WT</text>
<text transform="translate(232.3,459.7) rotate(-45)" font-size="7.8" text-anchor="end" fill="#231f20" >CTNNB1-KO</text>
<text x="258.8" y="341.4" font-size="10.3" text-anchor="start" fill="#111" font-weight="bold" >H</text>
<text x="340.5" y="352.2" font-size="9" text-anchor="middle" fill="#231f20" >RS4;11</text>
<line x1="290.9" y1="363.6" x2="290.9" y2="450.3" stroke="#231f20" stroke-width="1.1" />
<line x1="287.59999999999997" y1="388.7" x2="290.9" y2="388.7" stroke="#231f20" stroke-width="1" />
<text x="284.79999999999995" y="391.4" font-size="7.8" text-anchor="end" fill="#231f20" >100</text>
<line x1="287.59999999999997" y1="419.3" x2="290.9" y2="419.3" stroke="#231f20" stroke-width="1" />
<text x="284.79999999999995" y="422.0" font-size="7.8" text-anchor="end" fill="#231f20" >50</text>
<line x1="287.59999999999997" y1="449.7" x2="290.9" y2="449.7" stroke="#231f20" stroke-width="1" />
<text x="284.79999999999995" y="452.4" font-size="7.8" text-anchor="end" fill="#231f20" >0</text>
<line x1="290.4" y1="449.8" x2="394.6" y2="449.8" stroke="#231f20" stroke-width="1.1" />
<line x1="290.9" y1="449.8" x2="290.9" y2="452.2" stroke="#231f20" stroke-width="1" />
<text x="290.9" y="461.40000000000003" font-size="7.6" text-anchor="middle" fill="#231f20" >0.0001</text>
<line x1="330.8" y1="449.8" x2="330.8" y2="452.2" stroke="#231f20" stroke-width="1" />
<text x="330.8" y="461.40000000000003" font-size="7.6" text-anchor="middle" fill="#231f20" >0.01</text>
<line x1="370.9" y1="449.8" x2="370.9" y2="452.2" stroke="#231f20" stroke-width="1" />
<text x="370.9" y="461.40000000000003" font-size="7.6" text-anchor="middle" fill="#231f20" >1</text>
<text x="312.5" y="474.0" font-size="9.4" text-anchor="start" fill="#231f20" stroke="#231f20" stroke-width="0.28" textLength="57.9" lengthAdjust="spacingAndGlyphs" >CHIRON-99021, µM</text>
<text transform="translate(266.2,406.8) rotate(-90)" font-size="9.2" text-anchor="middle" fill="#231f20" stroke="#231f20" stroke-width="0.28" textLength="31" lengthAdjust="spacingAndGlyphs" >Survival, %</text>
<line x1="300.8" y1="482.9" x2="309.2" y2="482.9" stroke="#4cae4c" stroke-width="1" />
<circle cx="305.0" cy="482.9" r="2.2" fill="none" stroke="#4cae4c" stroke-width="0.8"/>
<text x="311.6" y="485.5" font-size="7.2" text-anchor="start" fill="#231f20" >WT</text>
<line x1="329.5" y1="482.9" x2="337.9" y2="482.9" stroke="#4b1a52" stroke-width="1" />
<circle cx="333.7" cy="482.9" r="2.0" fill="#4b1a52"/>
<text x="341.5" y="485.5" font-size="7.2" text-anchor="start" fill="#231f20" >CTNNB1 KO</text>
<polyline points="291.2,378.0 294.3,375.8 300.4,380.4 306.5,379.6 312.6,378.0 318.7,376.5 324.8,376.0 330.9,375.8 337.0,375.4 343.1,375.0 349.2,374.6 355.3,374.2 361.4,373.5 367.5,380.1 370.1,398.0 373.1,421.2 375.1,436.0 377.1,444.3 380.0,447.0 385.8,447.8 392.2,448.3" fill="none" stroke="#4cae4c" stroke-width="0.9" stroke-linejoin="round" />
<polyline points="294.3,379.0 300.4,383.0 306.5,383.0 312.6,384.5 318.7,386.5 324.8,386.0 330.9,384.2 337.0,383.5" fill="none" stroke="#4cae4c" stroke-width="0.7" stroke-linejoin="round" />
<circle cx="294.3" cy="378.0" r="2.3" fill="none" stroke="#4cae4c" stroke-width="0.8"/>
<circle cx="294.3" cy="376.4" r="2.3" fill="none" stroke="#4cae4c" stroke-width="0.8"/>
<circle cx="300.4" cy="369.6" r="2.3" fill="none" stroke="#4cae4c" stroke-width="0.8"/>
<circle cx="300.4" cy="382.7" r="2.3" fill="none" stroke="#4cae4c" stroke-width="0.8"/>
<circle cx="306.5" cy="364.2" r="2.3" fill="none" stroke="#4cae4c" stroke-width="0.8"/>
<circle cx="306.5" cy="382.7" r="2.3" fill="none" stroke="#4cae4c" stroke-width="0.8"/>
<circle cx="312.6" cy="362.7" r="2.3" fill="none" stroke="#4cae4c" stroke-width="0.8"/>
<circle cx="312.6" cy="384.2" r="2.3" fill="none" stroke="#4cae4c" stroke-width="0.8"/>
<circle cx="318.7" cy="386.5" r="2.3" fill="none" stroke="#4cae4c" stroke-width="0.8"/>
<circle cx="324.8" cy="385.8" r="2.3" fill="none" stroke="#4cae4c" stroke-width="0.8"/>
<circle cx="330.9" cy="384.2" r="2.3" fill="none" stroke="#4cae4c" stroke-width="0.8"/>
<circle cx="337.0" cy="383.5" r="2.3" fill="none" stroke="#4cae4c" stroke-width="0.8"/>
<circle cx="343.1" cy="377.3" r="2.3" fill="none" stroke="#4cae4c" stroke-width="0.8"/>
<circle cx="343.1" cy="389.6" r="2.3" fill="none" stroke="#4cae4c" stroke-width="0.8"/>
<circle cx="343.1" cy="388.1" r="2.3" fill="none" stroke="#4cae4c" stroke-width="0.8"/>
<circle cx="349.2" cy="378.0" r="2.3" fill="none" stroke="#4cae4c" stroke-width="0.8"/>
<circle cx="349.2" cy="377.1" r="2.3" fill="none" stroke="#4cae4c" stroke-width="0.8"/>
<circle cx="349.2" cy="390.4" r="2.3" fill="none" stroke="#4cae4c" stroke-width="0.8"/>
<circle cx="349.2" cy="390.1" r="2.3" fill="none" stroke="#4cae4c" stroke-width="0.8"/>
<circle cx="355.3" cy="377.3" r="2.3" fill="none" stroke="#4cae4c" stroke-width="0.8"/>
<circle cx="361.4" cy="370.4" r="2.3" fill="none" stroke="#4cae4c" stroke-width="0.8"/>
<circle cx="361.4" cy="389.6" r="2.3" fill="none" stroke="#4cae4c" stroke-width="0.8"/>
<circle cx="361.4" cy="388.1" r="2.3" fill="none" stroke="#4cae4c" stroke-width="0.8"/>
<circle cx="367.5" cy="380.1" r="2.3" fill="none" stroke="#4cae4c" stroke-width="0.8"/>
<circle cx="373.6" cy="407.2" r="2.3" fill="none" stroke="#4cae4c" stroke-width="0.8"/>
<circle cx="379.7" cy="429.3" r="2.3" fill="none" stroke="#4cae4c" stroke-width="0.8"/>
<circle cx="379.7" cy="432.3" r="2.3" fill="none" stroke="#4cae4c" stroke-width="0.8"/>
<circle cx="385.8" cy="442.3" r="2.3" fill="none" stroke="#4cae4c" stroke-width="0.8"/>
<circle cx="385.8" cy="447.0" r="2.3" fill="none" stroke="#4cae4c" stroke-width="0.8"/>
<circle cx="391.9" cy="447.3" r="2.3" fill="none" stroke="#4cae4c" stroke-width="0.8"/>
<circle cx="391.9" cy="447.0" r="2.3" fill="none" stroke="#4cae4c" stroke-width="0.8"/>
<polyline points="291.2,381.9 294.3,381.9 300.4,381.9 306.5,384.2 312.6,383.0 318.7,381.9 324.8,380.8 330.9,379.6 337.0,379.2 343.1,378.8 349.2,378.5 355.3,378.2 361.4,378.1 367.5,384.1 373.6,403.2 379.7,419.2 385.8,424.2 391.9,426.2" fill="none" stroke="#4b1a52" stroke-width="0.9" stroke-linejoin="round" />
<circle cx="294.3" cy="365.0" r="2.2" fill="#4b1a52"/>
<circle cx="294.3" cy="388.3" r="2.2" fill="#4b1a52"/>
<circle cx="294.3" cy="391.2" r="2.2" fill="#4b1a52"/>
<circle cx="300.4" cy="367.3" r="2.2" fill="#4b1a52"/>
<circle cx="300.4" cy="388.8" r="2.2" fill="#4b1a52"/>
<circle cx="300.4" cy="391.8" r="2.2" fill="#4b1a52"/>
<circle cx="306.5" cy="369.6" r="2.2" fill="#4b1a52"/>
<circle cx="306.5" cy="389.3" r="2.2" fill="#4b1a52"/>
<circle cx="306.5" cy="392.5" r="2.2" fill="#4b1a52"/>
<circle cx="312.6" cy="364.2" r="2.2" fill="#4b1a52"/>
<circle cx="312.6" cy="388.8" r="2.2" fill="#4b1a52"/>
<circle cx="312.6" cy="391.8" r="2.2" fill="#4b1a52"/>
<circle cx="318.7" cy="365.0" r="2.2" fill="#4b1a52"/>
<circle cx="318.7" cy="389.3" r="2.2" fill="#4b1a52"/>
<circle cx="318.7" cy="392.3" r="2.2" fill="#4b1a52"/>
<circle cx="324.8" cy="389.6" r="2.2" fill="#4b1a52"/>
<circle cx="330.9" cy="387.5" r="2.2" fill="#4b1a52"/>
<circle cx="330.9" cy="391.0" r="2.2" fill="#4b1a52"/>
<circle cx="337.0" cy="386.5" r="2.2" fill="#4b1a52"/>
<circle cx="337.0" cy="391.0" r="2.2" fill="#4b1a52"/>
<circle cx="343.1" cy="363.9" r="2.2" fill="#4b1a52"/>
<circle cx="343.1" cy="381.2" r="2.2" fill="#4b1a52"/>
<circle cx="343.1" cy="390.4" r="2.2" fill="#4b1a52"/>
<circle cx="349.2" cy="385.1" r="2.2" fill="#4b1a52"/>
<circle cx="349.2" cy="388.1" r="2.2" fill="#4b1a52"/>
<circle cx="355.3" cy="386.1" r="2.2" fill="#4b1a52"/>
<circle cx="355.3" cy="388.1" r="2.2" fill="#4b1a52"/>
<circle cx="361.4" cy="364.0" r="2.2" fill="#4b1a52"/>
<circle cx="361.4" cy="381.1" r="2.2" fill="#4b1a52"/>
<circle cx="361.4" cy="391.1" r="2.2" fill="#4b1a52"/>
<circle cx="367.5" cy="375.1" r="2.2" fill="#4b1a52"/>
<circle cx="367.5" cy="381.1" r="2.2" fill="#4b1a52"/>
<circle cx="367.5" cy="399.2" r="2.2" fill="#4b1a52"/>
<circle cx="373.6" cy="397.1" r="2.2" fill="#4b1a52"/>
<circle cx="373.6" cy="413.2" r="2.2" fill="#4b1a52"/>
<circle cx="379.7" cy="413.2" r="2.2" fill="#4b1a52"/>
<circle cx="379.7" cy="425.2" r="2.2" fill="#4b1a52"/>
<circle cx="385.8" cy="416.2" r="2.2" fill="#4b1a52"/>
<circle cx="385.8" cy="423.2" r="2.2" fill="#4b1a52"/>
<circle cx="385.8" cy="430.3" r="2.2" fill="#4b1a52"/>
<circle cx="391.9" cy="425.2" r="2.2" fill="#4b1a52"/>
<circle cx="391.9" cy="429.3" r="2.2" fill="#4b1a52"/>
<circle cx="391.9" cy="434.3" r="2.2" fill="#4b1a52"/>
<text x="408.3" y="341.1" font-size="10.3" text-anchor="start" fill="#111" font-weight="bold" >I</text>
<text x="459.2" y="352.3" font-size="9" text-anchor="middle" fill="#231f20" >RS4;11</text>
<line x1="431.3" y1="363.6" x2="431.3" y2="450.0" stroke="#231f20" stroke-width="1.1" />
<line x1="428.0" y1="366.1" x2="431.3" y2="366.1" stroke="#231f20" stroke-width="1" />
<text x="425.2" y="368.8" font-size="7.8" text-anchor="end" fill="#231f20" >4</text>
<line x1="428.0" y1="387.0" x2="431.3" y2="387.0" stroke="#231f20" stroke-width="1" />
<text x="425.2" y="389.7" font-size="7.8" text-anchor="end" fill="#231f20" >3</text>
<line x1="428.0" y1="407.9" x2="431.3" y2="407.9" stroke="#231f20" stroke-width="1" />
<text x="425.2" y="410.59999999999997" font-size="7.8" text-anchor="end" fill="#231f20" >2</text>
<line x1="428.0" y1="428.7" x2="431.3" y2="428.7" stroke="#231f20" stroke-width="1" />
<text x="425.2" y="431.4" font-size="7.8" text-anchor="end" fill="#231f20" >1</text>
<line x1="428.0" y1="449.4" x2="431.3" y2="449.4" stroke="#231f20" stroke-width="1" />
<text x="425.2" y="452.09999999999997" font-size="7.8" text-anchor="end" fill="#231f20" >0</text>
<line x1="430.8" y1="449.5" x2="482.5" y2="449.5" stroke="#231f20" stroke-width="1.1" />
<line x1="447.2" y1="449.5" x2="447.2" y2="452.0" stroke="#231f20" stroke-width="1" />
<line x1="470.8" y1="449.5" x2="470.8" y2="452.0" stroke="#231f20" stroke-width="1" />
<text transform="translate(415.2,406.5) rotate(-90)" font-size="9.2" text-anchor="middle" fill="#231f20" stroke="#231f20" stroke-width="0.28" textLength="27.3" lengthAdjust="spacingAndGlyphs" >IC50, µM</text>
<rect x="440.1" y="429.2" width="14.8" height="20.3" fill="#a9d595" stroke="#9cbb8e" stroke-width="0.7"/>
<rect x="463.7" y="400.9" width="14.3" height="48.6" fill="#a77fb0" stroke="#947d99" stroke-width="0.7"/>
<line x1="447.4" y1="423.9" x2="447.4" y2="429.5" stroke="#4cae4c" stroke-width="0.9" />
<line x1="444.6" y1="423.9" x2="450.2" y2="423.9" stroke="#4cae4c" stroke-width="0.9" />
<circle cx="441.7" cy="430.4" r="2.3" fill="none" stroke="#4cae4c" stroke-width="0.8"/>
<circle cx="453.1" cy="429.6" r="2.3" fill="none" stroke="#4cae4c" stroke-width="0.8"/>
<circle cx="447.4" cy="421.4" r="2.3" fill="none" stroke="#4cae4c" stroke-width="0.8"/>
<line x1="470.9" y1="376.1" x2="470.9" y2="401.0" stroke="#7a5886" stroke-width="1.0" />
<line x1="467.5" y1="379.3" x2="474.2" y2="379.3" stroke="#7a5886" stroke-width="1.0" />
<circle cx="464.7" cy="412.5" r="2.1" fill="#4b1a52"/>
<circle cx="476.8" cy="412.5" r="2.1" fill="#4b1a52"/>
<circle cx="470.9" cy="375.6" r="2.1" fill="#4b1a52"/>
<polyline points="447.0,415.6 447.0,367.1 470.7,367.1 470.7,368.7" fill="none" stroke="#231f20" stroke-width="0.9" stroke-linejoin="round" />
<text x="459.0" y="363.7" font-size="7.8" text-anchor="middle" fill="#231f20" >0.098</text>
<text transform="translate(451.1,460.1) rotate(-45)" font-size="7.8" text-anchor="end" fill="#231f20" >WT</text>
<text transform="translate(475.3,459.7) rotate(-45)" font-size="7.8" text-anchor="end" fill="#231f20" >CTNNB1-KO</text>
<rect x="0.5" y="0.5" width="519" height="497" fill="none" stroke="#5e5e5e" stroke-width="1"/>
</svg></div></body></html>
